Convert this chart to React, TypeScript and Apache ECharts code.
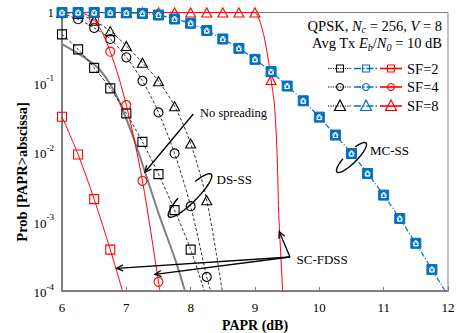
import React, { useEffect, useRef } from 'react';
import * as echarts from 'echarts';

const FONT = "'Times New Roman', 'Liberation Serif', 'DejaVu Serif', serif";

// axis
const xMin = 6;
const xMax = 12;
const xStep = 1;
const yMin = 1e-4;
const yMax = 1;

// No spreading (line only)
const noSpreadX = [6.0, 6.33, 6.59, 6.85, 7.11, 7.29, 7.52, 7.76, 7.91];
const noSpreadY = [0.352, 0.231, 0.149, 0.063, 0.0158, 0.0051, 0.00115, 0.00028, 0.0001];

// DS-SS (markers) + tail of curve without markers
const dsX2 = [6, 6.25, 6.5, 6.75, 7, 7.25, 7.5, 7.75, 8];
const dsY2 = [0.485, 0.295, 0.16, 0.081, 0.0355, 0.0138, 0.00475, 0.00144, 0.00039];
const dsTailX2 = [8.21];
const dsTailY2 = [0.0001];

const dsX4 = [6, 6.25, 6.5, 6.75, 7, 7.25, 7.5, 7.75, 8, 8.25];
const dsY4 = [0.97, 0.8, 0.6, 0.416, 0.227, 0.104, 0.0366, 0.0094, 0.00164, 0.000158];
const dsTailX4 = [8.31];
const dsTailY4 = [0.0001];

const dsX8 = [6, 6.25, 6.5, 6.75, 7, 7.25, 7.5, 7.75, 8, 8.25];
const dsY8 = [0.99, 0.95, 0.76, 0.54, 0.33, 0.19, 0.103, 0.045, 0.0131, 0.002];
const dsTailX8 = [8.49];
const dsTailY8 = [0.0001];

// SC-FDSS
const scX2 = [6, 6.25, 6.5, 6.75];
const scY2 = [0.0317, 0.0091, 0.00207, 0.00039];
const scTailX2 = [6.94];
const scTailY2 = [0.0001];

const scX4 = [6, 6.25, 6.5, 6.75, 7, 7.25, 7.5];
const scY4 = [1, 0.99, 0.8, 0.273, 0.0467, 0.0038, 0.000134];
const scTailX4 = [7.52];
const scTailY4 = [0.0001];

const scX8 = [6, 6.25, 6.5, 6.75, 7, 7.25, 7.5, 7.75, 8, 8.25, 8.5, 8.75, 9, 9.25];
const scY8 = [1, 1, 1, 1, 1, 1, 1, 1, 1, 1, 1, 1, 1, 0.107];
const scTailX8 = [9.13, 9.21, 9.3, 9.33, 9.35, 9.37, 9.43];
const scTailY8 = [0.5, 0.2, 0.05, 0.018, 0.006, 0.0012, 0.0001];

// MC-SS (SF=2, 4, 8 overlap)
const mcX = [6, 6.25, 6.5, 6.75, 7, 7.25, 7.5, 7.75, 8, 8.25, 8.5, 8.75, 9, 9.25, 9.5, 9.75, 10, 10.25, 10.5, 10.75, 11, 11.25, 11.5, 11.75];
const mcY = [1, 1, 1, 0.995, 0.99, 0.97, 0.92, 0.806, 0.7, 0.55, 0.416, 0.305, 0.212, 0.141, 0.0876, 0.0538, 0.0313, 0.0173, 0.0094, 0.00485, 0.00237, 0.00109, 0.00048, 0.000202];
const mcTailX = [12.0];
const mcTailY = [0.000085];

const legendLabels = ['SF=2', 'SF=4', 'SF=8'];

const BLACK = '#000000';
const RED = '#ff0000';
const BLUE = '#0070c0';
const GRAY = '#7f7f7f';

function buildData(xs: number[], ys: number[], tx: number[] = [], ty: number[] = []) {
  const pts: any[] = xs.map((x, i) => ({ value: [x, ys[i]] }));
  const extra: any[] = tx.map((x, i) => ({ value: [x, ty[i]], symbol: 'none' }));
  return [...pts, ...extra].sort((a, b) => a.value[0] - b.value[0]);
}

function arcPts(cx: number, cy: number, rx: number, ry: number, angDeg: number, t0: number, t1: number, n = 60) {
  const a = (angDeg * Math.PI) / 180;
  const ux = Math.cos(a), uy = Math.sin(a);
  const vx = -Math.sin(a), vy = Math.cos(a);
  const pts: number[][] = [];
  for (let i = 0; i <= n; i++) {
    const t = ((t0 + ((t1 - t0) * i) / n) * Math.PI) / 180;
    pts.push([
      cx + ux * rx * Math.cos(t) + vx * ry * Math.sin(t),
      cy + uy * rx * Math.cos(t) + vy * ry * Math.sin(t),
    ]);
  }
  return pts;
}

function arrow(x1: number, y1: number, x2: number, y2: number) {
  const dx = x2 - x1, dy = y2 - y1;
  const L = Math.hypot(dx, dy);
  const ux = dx / L, uy = dy / L;
  const h = 7, ang = (26 * Math.PI) / 180;
  const rot = (s: number) => [
    x2 - h * (ux * Math.cos(s * ang) - uy * Math.sin(s * ang)),
    y2 - h * (ux * Math.sin(s * ang) + uy * Math.cos(s * ang)),
  ];
  return [
    { type: 'line', shape: { x1, y1, x2, y2 }, style: { stroke: BLACK, lineWidth: 1.3 }, z: 100 },
    { type: 'polyline', shape: { points: [rot(1), [x2, y2], rot(-1)] }, style: { stroke: BLACK, fill: 'none', lineWidth: 1.3 }, z: 100 },
  ];
}

function marker(kind: string, cx: number, cy: number, s: number, color: string) {
  if (kind === 'rect') {
    return { type: 'rect', shape: { x: cx - s / 2, y: cy - s / 2, width: s, height: s }, style: { fill: 'none', stroke: color, lineWidth: 1.1 }, z: 100 };
  }
  if (kind === 'circle') {
    return { type: 'circle', shape: { cx, cy, r: s / 2 }, style: { fill: 'none', stroke: color, lineWidth: 1.1 }, z: 100 };
  }
  return {
    type: 'polygon',
    shape: { points: [[cx, cy - s * 0.6], [cx - s * 0.55, cy + s * 0.45], [cx + s * 0.55, cy + s * 0.45]] },
    style: { fill: 'none', stroke: color, lineWidth: 1.2 },
    z: 100,
  };
}

function textEl(text: string, x: number, y: number, size: number, align = 'left', extra: any = {}) {
  return {
    type: 'text',
    x,
    y,
    z: 100,
    style: { text, fill: BLACK, fontFamily: FONT, fontSize: size, align, verticalAlign: 'middle', ...extra },
  };
}

export default function App() {
  const ref = useRef<HTMLDivElement>(null);

  useEffect(() => {
    if (!ref.current) return;
    const chart = echarts.init(ref.current, undefined, { renderer: 'svg' });

    const dsLine = { color: BLACK, width: 0.8, type: [3, 2] };
    const openBlack = { color: 'rgba(0,0,0,0)', borderColor: BLACK, borderWidth: 1.1 };
    const openRed = { color: 'rgba(0,0,0,0)', borderColor: RED, borderWidth: 1.1 };

    const series: any[] = [
      {
        name: 'No spreading', type: 'line', data: buildData(noSpreadX, noSpreadY), showSymbol: false, smooth: 0.3,
        lineStyle: { color: GRAY, width: 2 }, z: 2,
      },
      { name: 'DS-SS SF=2', type: 'line', data: buildData(dsX2, dsY2, dsTailX2, dsTailY2), smooth: 0.3, symbol: 'rect', symbolSize: 9, lineStyle: dsLine, itemStyle: openBlack, z: 3 },
      { name: 'DS-SS SF=4', type: 'line', data: buildData(dsX4, dsY4, dsTailX4, dsTailY4), smooth: 0.3, symbol: 'circle', symbolSize: 9, lineStyle: dsLine, itemStyle: openBlack, z: 3 },
      { name: 'DS-SS SF=8', type: 'line', data: buildData(dsX8, dsY8, dsTailX8, dsTailY8), smooth: 0.3, symbol: 'triangle', symbolSize: [10, 9], lineStyle: dsLine, itemStyle: openBlack, z: 3 },
      { name: 'SC-FDSS SF=2', type: 'line', data: buildData(scX2, scY2, scTailX2, scTailY2), smooth: 0.3, symbol: 'rect', symbolSize: 9, lineStyle: { color: RED, width: 1 }, itemStyle: openRed, z: 4 },
      { name: 'SC-FDSS SF=4', type: 'line', data: buildData(scX4, scY4, scTailX4, scTailY4), smooth: 0.3, symbol: 'circle', symbolSize: 9, lineStyle: { color: RED, width: 1 }, itemStyle: openRed, z: 4 },
      { name: 'SC-FDSS SF=8', type: 'line', data: buildData(scX8, scY8, scTailX8, scTailY8), smooth: 0.2, symbol: 'triangle', symbolSize: [10, 9], lineStyle: { color: RED, width: 1 }, itemStyle: openRed, z: 4 },
      { name: 'MC-SS SF=2', type: 'line', data: buildData(mcX, mcY, mcTailX, mcTailY), smooth: 0.3, symbol: 'rect', symbolSize: 10, lineStyle: { color: BLUE, width: 1.2, type: [5, 2, 1, 2] }, itemStyle: { color: BLUE, borderColor: BLUE, borderWidth: 1 }, z: 5 },
      { name: 'MC-SS SF=4', type: 'line', data: buildData(mcX, mcY, mcTailX, mcTailY), smooth: 0.3, symbol: 'circle', symbolSize: 5, lineStyle: { width: 0 }, itemStyle: { color: 'rgba(0,0,0,0)', borderColor: '#ffffff', borderWidth: 1 }, z: 6 },
      { name: 'MC-SS SF=8', type: 'line', data: buildData(mcX, mcY, mcTailX, mcTailY), smooth: 0.3, symbol: 'triangle', symbolSize: 5, lineStyle: { width: 0 }, itemStyle: { color: 'rgba(0,0,0,0)', borderColor: '#ffffff', borderWidth: 1 }, z: 6 },
    ];

    const g: any[] = [];
    // legend box title
    g.push(textEl('{n|QPSK, }{i|N}{sub|c}{n| = 256, }{i|V}{n| = 8}', 442, 25.5, 14.5, 'right', {
      rich: {
        n: { fontFamily: FONT, fontSize: 14.5, verticalAlign: 'middle', padding: [0, 0, 0, 0] },
        i: { fontFamily: FONT, fontSize: 14.5, fontStyle: 'italic', verticalAlign: 'middle' },
        sub: { fontFamily: FONT, fontSize: 10, fontStyle: 'italic', verticalAlign: 'middle', padding: [8, 0, 0, 0] },
      },
    }));
    g.push(textEl('{n|Avg Tx }{i|E}{sub|b}{n|/}{i|N}{sub|0}{n| = 10 dB}', 442, 43.3, 14.5, 'right', {
      rich: {
        n: { fontFamily: FONT, fontSize: 14.5, verticalAlign: 'middle' },
        i: { fontFamily: FONT, fontSize: 14.5, fontStyle: 'italic', verticalAlign: 'middle' },
        sub: { fontFamily: FONT, fontSize: 10, fontStyle: 'italic', verticalAlign: 'middle', padding: [8, 0, 0, 0] },
      },
    }));
    const rowY = [68.5, 87, 106];
    const kinds = ['rect', 'circle', 'tri'];
    rowY.forEach((y, i) => {
      g.push({ type: 'line', shape: { x1: 328, y1: y, x2: 351, y2: y }, style: { stroke: BLACK, lineWidth: 1, lineDash: [1.2, 1.2] }, z: 100 });
      g.push(marker(kinds[i], 340, y, kinds[i] === 'tri' ? 10 : 7, BLACK));
      g.push({ type: 'line', shape: { x1: 354, y1: y, x2: 378, y2: y }, style: { stroke: BLUE, lineWidth: 1.5, lineDash: [7, 2, 1.5, 2] }, z: 100 });
      g.push(marker(kinds[i], 366, y, kinds[i] === 'tri' ? 10 : 7, BLUE));
      g.push({ type: 'line', shape: { x1: 380, y1: y, x2: 402, y2: y }, style: { stroke: RED, lineWidth: 1.6 }, z: 100 });
      g.push(marker(kinds[i], 391, y, kinds[i] === 'tri' ? 10 : 7, RED));
      g.push(textEl(legendLabels[i], 407, y, 14.5));
    });

    // annotations
    g.push(textEl('No spreading', 200, 113, 12.5));
    g.push(...arrow(193.3, 114, 145, 172));
    g.push(textEl('DS-SS', 216.5, 179.5, 13));
    g.push({ type: 'polyline', shape: { points: arcPts(190, 195.5, 30, 7, -45, 297, 610) }, style: { stroke: BLACK, fill: 'none', lineWidth: 1.4 }, z: 100 });
    g.push(textEl('MC-SS', 370, 150, 13));
    g.push({ type: 'polyline', shape: { points: arcPts(351.5, 157.5, 20.5, 5.5, -45, 300, 610) }, style: { stroke: BLACK, fill: 'none', lineWidth: 1.4 }, z: 100 });
    g.push(textEl('SC-FDSS', 296.5, 259, 13));
    g.push(...arrow(290, 257, 279.3, 231.7));
    g.push(...arrow(290, 257, 116.7, 268.3));
    g.push(...arrow(290, 257, 155, 274.3));

    // y axis title
    g.push({
      type: 'text', x: 22, y: 172, rotation: Math.PI / 2, z: 100,
      style: { text: 'Prob [PAPR>abscissa]', fill: BLACK, fontFamily: FONT, fontSize: 14.5, fontWeight: 'bold', align: 'center', verticalAlign: 'middle' },
    });

    chart.setOption({
      animation: false,
      backgroundColor: '#ffffff',
      grid: {
        left: 62, right: 17, top: 12.5, bottom: 42.3, show: true, borderColor: GRAY, borderWidth: 1, backgroundColor: 'transparent',
        containLabel: false, outerBoundsMode: 'none',
      },
      xAxis: {
        type: 'value', min: xMin, max: xMax, interval: xStep,
        axisLine: { lineStyle: { color: GRAY, width: 2 } },
        axisTick: { inside: true, length: 4, lineStyle: { color: GRAY } },
        axisLabel: { fontFamily: FONT, fontSize: 13, color: BLACK, margin: 10 },
        splitLine: { show: false },
        name: 'PAPR (dB)', nameLocation: 'middle', nameGap: 25,
        nameTextStyle: { fontFamily: FONT, fontSize: 14, fontWeight: 'bold', color: BLACK },
      },
      yAxis: {
        type: 'log', logBase: 10, min: yMin, max: yMax,
        axisLine: { show: true, lineStyle: { color: GRAY, width: 2 } },
        axisTick: { show: false },
        splitLine: { show: false },
        minorTick: { show: false },
        axisLabel: {
          margin: 8,
          formatter: (v: number) => {
            const e = Math.round(Math.log10(v));
            return e === 0 ? '{b|1}' : `{b|10}{s|-${-e}}`;
          },
          rich: {
            b: { fontFamily: FONT, fontSize: 13, color: BLACK, verticalAlign: 'bottom' },
            s: { fontFamily: FONT, fontSize: 9, color: BLACK, verticalAlign: 'top', padding: [0, 0, 8, 0] },
          },
        },
      },
      series,
      graphic: g,
    });

    return () => chart.dispose();
  }, []);

  return <div ref={ref} style={{ position: 'fixed', left: 0, top: 0, width: 465, height: 333, background: '#fff' }} />;
}
